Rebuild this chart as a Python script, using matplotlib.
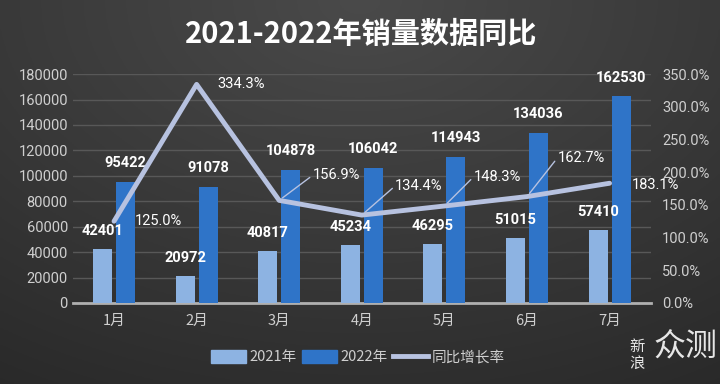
import numpy as np
import matplotlib.pyplot as plt
from matplotlib.patches import Patch
from matplotlib.lines import Line2D

plt.rcParams['font.family'] = ['Noto Sans CJK SC', 'DejaVu Sans']

months = ["1月", "2月", "3月", "4月", "5月", "6月", "7月"]
sales_2021 = [42401, 20972, 40817, 45234, 46295, 51015, 57410]
sales_2022 = [95422, 91078, 104878, 106042, 114943, 134036, 162530]
growth = [1.250, 3.343, 1.569, 1.344, 1.483, 1.627, 1.831]
growth_labels = ["125.0%", "334.3%", "156.9%", "134.4%", "148.3%", "162.7%", "183.1%"]

LIGHT = "#8db3e2"
DARK = "#2f74c8"
LINE = "#b7c2e0"
TXT = "#cfcfcf"
NUM_FONT = ["Roboto", "DejaVu Sans"]

fig = plt.figure(figsize=(7.2, 3.84), dpi=100, facecolor="#333333")

# background gradient: lighter near the top middle, darker toward the edges
bg = fig.add_axes([0, 0, 1, 1], zorder=-10)
yy, xx = np.mgrid[0:1:200j, 0:1:360j]
r = np.sqrt(((xx - 0.5) * 1.1) ** 2 + (yy * 0.9) ** 2)
level = np.clip(0.29 - 0.12 * r, 0.15, 0.3)
bg.imshow(np.dstack([level, level, level]), aspect="auto", extent=[0, 1, 0, 1], origin="upper")
bg.axis("off")

ax = fig.add_axes([0.101, 0.211, 0.803, 0.596])
ax.patch.set_alpha(0)
x = np.arange(len(months))
w = 0.23
ax.bar(x - 0.14, sales_2021, width=w, color=LIGHT, zorder=3)
ax.bar(x + 0.14, sales_2022, width=w, color=DARK, zorder=3)

for i in range(len(months)):
    ax.annotate(str(sales_2021[i]), (x[i] - 0.14, sales_2021[i]), xytext=(0, 13), textcoords="offset points",
                ha="center", va="center", color="white", fontsize=10.5, fontweight="bold", family=NUM_FONT)
    ax.annotate(str(sales_2022[i]), (x[i] + 0.14, sales_2022[i]), xytext=(0, 13.5), textcoords="offset points",
                ha="center", va="center", color="white", fontsize=10.5, fontweight="bold", family=NUM_FONT)

ax.set_xlim(-0.5, len(months) - 0.5)
ax.set_ylim(0, 180000)
ax.set_yticks(np.arange(0, 180001, 20000))
ax.set_xticks(x)
ax.set_xticklabels(months)
ax.grid(axis="y", color="#585858", linewidth=1, zorder=0)
for s in ["top", "right", "left"]:
    ax.spines[s].set_visible(False)
ax.spines["bottom"].set_color("#b0b0b0")
ax.spines["bottom"].set_linewidth(2)
ax.tick_params(axis="both", length=0, colors=TXT, labelsize=10.5)
ax.tick_params(axis="x", pad=8)
for t in ax.get_yticklabels():
    t.set_family(NUM_FONT)

ax2 = ax.twinx()
ax2.set_ylim(0, 3.5)
ax2.set_yticks(np.arange(0, 3.51, 0.5))
ax2.set_yticklabels([f"{v * 100:.1f}%" for v in np.arange(0, 3.51, 0.5)], family=NUM_FONT)
for s in ax2.spines.values():
    s.set_visible(False)
ax2.tick_params(axis="y", length=0, colors=TXT, labelsize=10.5, pad=8)
ax2.plot(x, growth, color=LINE, linewidth=3.5, solid_capstyle="round", zorder=5)

# label offsets in points (dx, dy), leader line when dy != 0
offsets = [(15, 0), (15, 0), (24, 18), (24, 21), (21, 21), (22, 28), (16, -1)]
for i in range(len(months)):
    dx, dy = offsets[i]
    props = None
    if dy > 5:
        props = dict(arrowstyle="-", color=LINE, lw=1, relpos=(0, 0.5), shrinkA=0, shrinkB=3)
    ax2.annotate(growth_labels[i], (x[i], growth[i]), xytext=(dx, dy), textcoords="offset points",
                 ha="left", va="center", color="white", fontsize=10.5, family=NUM_FONT,
                 arrowprops=props, zorder=6)

fig.text(0.502, 0.912, "2021-2022年销量数据同比", ha="center", va="center", color="white",
         fontsize=21, fontweight="bold")

handles = [Patch(color=LIGHT), Patch(color=DARK), Line2D([], [], color=LINE, lw=3.5)]
fig.legend(handles, ["2021年", "2022年", "同比增长率"], loc="center", bbox_to_anchor=(0.497, 0.07),
           ncol=3, frameon=False, fontsize=10.5, labelcolor=TXT, handlelength=2.4, handleheight=1.0,
           columnspacing=0.4, handletextpad=0.2)

# watermark
fig.text(0.885, 0.075, "新\n浪", color="#e6e6e6", fontsize=11, ha="center", va="center", linespacing=1.0)
fig.text(0.952, 0.098, "众测", color="#e6e6e6", fontsize=23, ha="center", va="center")

fig.savefig("out.png", dpi=100, facecolor=fig.get_facecolor())
